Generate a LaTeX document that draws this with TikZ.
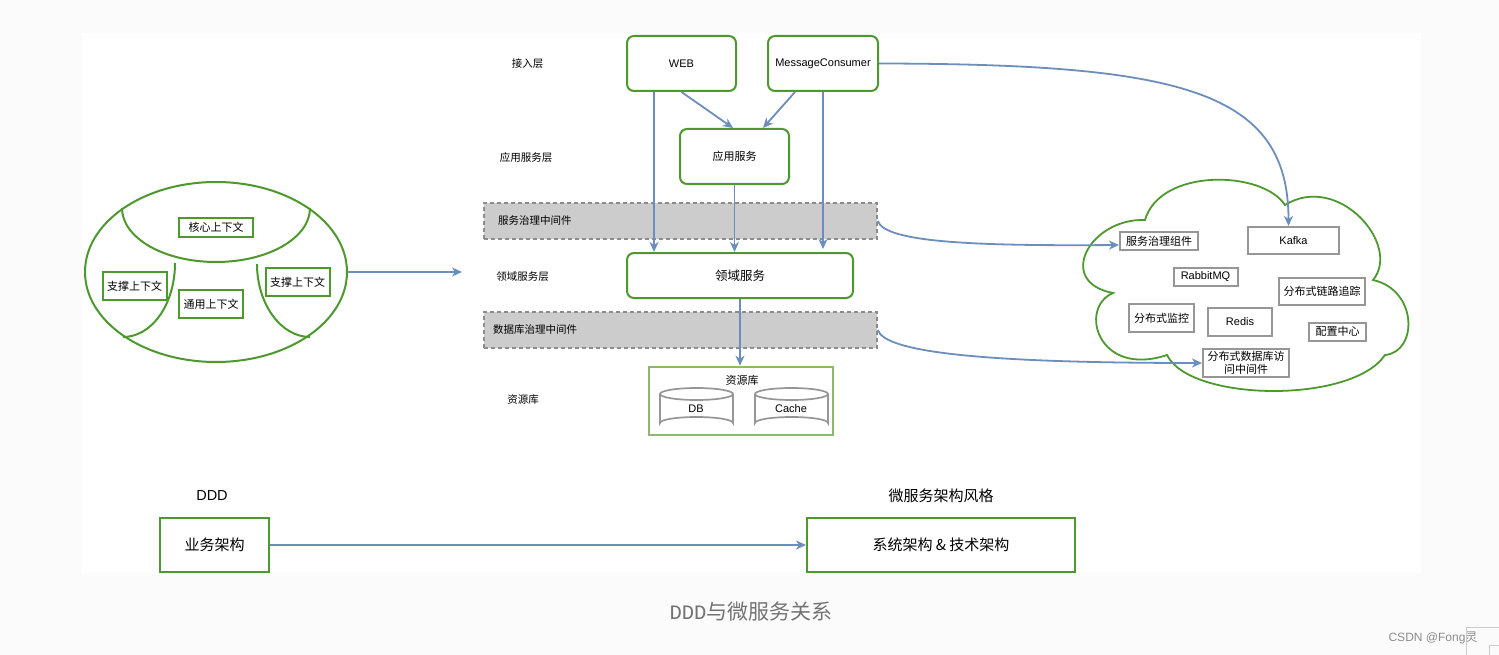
\documentclass[tikz,border=0pt]{standalone}
\usepackage{fontspec}
\setmainfont{Liberation Sans}
\newfontfamily\cjk{Noto Sans CJK SC}
\newfontfamily\monof{Liberation Mono}
\usetikzlibrary{arrows.meta,shapes.geometric}
\definecolor{gr}{RGB}{77,153,46}
\definecolor{lgr}{RGB}{140,185,110}
\definecolor{ablue}{RGB}{108,142,191}
\definecolor{bandfill}{RGB}{204,204,204}
\definecolor{bandline}{RGB}{140,140,140}
\definecolor{cgray}{RGB}{150,150,150}
\definecolor{bgc}{RGB}{251,251,251}
\newcommand\setfs[1]{\fontsize{#1}{#1}\selectfont}
\begin{document}
\begin{tikzpicture}[x=1pt,y=-1pt,
  arr/.style={draw=ablue, line width=1.8pt, -{Stealth[length=10pt,width=9pt,inset=3pt]}},
  gbox/.style={draw=gr, line width=2pt, fill=white, inner sep=0pt, align=center},
  rbox/.style={gbox, rounded corners=7pt},
  cbox/.style={draw=cgray, line width=2pt, fill=white, inner sep=0pt, align=center},
  band/.style={draw=bandline, fill=bandfill, line width=1.6pt, dash pattern=on 4pt off 3pt, inner sep=0pt},
  lbl/.style={inner sep=0pt, font=\cjk\setfs{10.5}},
  cyl/.style={draw=cgray, line width=1.7pt, fill=white}
]
\fill[bgc] (0,0) rectangle (1499,655);
\fill[white] (82,33) rectangle (1421,573);
\useasboundingbox (0,0) rectangle (1499,655);

% ---------- left ellipse (bounded contexts)
\node[ellipse, draw=gr, line width=2pt, minimum width=262, minimum height=180, inner sep=0pt] (ctx) at (216,272) {};
\draw[gr, line width=2pt] (122,208) .. controls (122,238) and (164,262) .. (216,262) .. controls (268,262) and (310,238) .. (310,208);
\draw[gr, line width=2pt] (175,263) .. controls (175,304) and (152,337) .. (123,337);
\draw[gr, line width=2pt] (257,264) .. controls (257,304) and (281,337) .. (310,337);
\node[gbox, minimum width=74, minimum height=19, font=\cjk\setfs{11}] (core) at (216,227.5) {核心上下文};
\node[gbox, minimum width=64, minimum height=28, font=\cjk\setfs{11}] (supl) at (134.5,286) {支撑上下文};
\node[gbox, minimum width=64, minimum height=28, font=\cjk\setfs{11}] (gen) at (211,304) {通用上下文};
\node[gbox, minimum width=64, minimum height=28, font=\cjk\setfs{11}] (supr) at (297.5,282) {支撑上下文};
\coordinate (ctxend) at (462,272);
\draw[arr] (ctx.east) -- (ctxend);

% ---------- layer labels
\node[lbl] (l1) at (527.5,64) {接入层};
\node[lbl] (l2) at (526,157.5) {应用服务层};
\node[lbl] (l3) at (522.5,277) {领域服务层};
\node[lbl] (l4) at (523,400) {资源库};

% ---------- bands
\node[band, minimum width=393, minimum height=36] (b1) at (680.5,221) {};
\node[lbl, anchor=west] (b1t) at (498,221) {服务治理中间件};
\node[band, minimum width=393, minimum height=36] (b2) at (680.5,330) {};
\node[lbl, anchor=west] (b2t) at (493,330) {数据库治理中间件};

% ---------- main boxes
\node[rbox, minimum width=109, minimum height=55, font=\setfs{11}] (web) at (681.5,63.5) {WEB};
\node[rbox, minimum width=110, minimum height=55, font=\setfs{11}] (mc) at (823,63.5) {MessageConsumer};
\node[rbox, minimum width=109, minimum height=55, font=\cjk\setfs{11}] (app) at (734.5,156.5) {应用服务};
\node[rbox, minimum width=226, minimum height=45, font=\cjk\setfs{12.5}] (dom) at (740,275.5) {领域服务};

% resource container
\node[draw=lgr, line width=2.6pt, fill=white, minimum width=184, minimum height=68, inner sep=0pt] (res) at (741,401) {};
\node[inner sep=0pt, font=\cjk\setfs{11}] (rest) at (742,380) {资源库};
% cylinders
\draw[cyl] (660,394) -- (660,423) arc[start angle=180, end angle=360, x radius=36.5, y radius=6] -- (733,394);
\draw[cyl] (696.5,394) ellipse[x radius=36.5, y radius=6];
\draw[cyl] (755,394) -- (755,423) arc[start angle=180, end angle=360, x radius=36.5, y radius=6] -- (828,394);
\draw[cyl] (791.5,394) ellipse[x radius=36.5, y radius=6];
\node[inner sep=0pt, font=\setfs{11}] (dbt) at (696,409) {DB};
\node[inner sep=0pt, font=\setfs{11}] (cachet) at (791,409) {Cache};

% ---------- arrows in main column
\coordinate (w1) at ([xshift=-27.5pt]web.south);
\draw[arr] (w1) -- (w1 |- dom.north);
\draw[arr] (web.south) -- ([xshift=-1.5pt]app.north);
\coordinate (m1) at ([xshift=-28pt]mc.south);
\draw[arr] (m1) -- ([xshift=28.5pt]app.north);
\coordinate (m2) at (mc.south);
\draw[arr] (m2) -- ([yshift=3pt]m2 |- dom.north);
\draw[arr] (app.south) -- (app.south |- dom.north);
\draw[arr] (dom.south) -- (dom.south |- res.north);

% ---------- cloud
\draw[gr, line width=1.8pt, fill=white]
  (1145,220) .. controls (1090,218) and (1055,282) .. (1113,293)
  .. controls (1078,308) and (1098,378) .. (1167,355)
  .. controls (1190,402) and (1352,404) .. (1385,355)
  .. controls (1418,352) and (1418,290) .. (1373,280)
  .. controls (1402,245) and (1338,172) .. (1285,205)
  .. controls (1262,170) and (1160,168) .. (1145,220) -- cycle;
\node[cbox, minimum width=78, minimum height=18, font=\cjk\setfs{11}] (zl) at (1159,241) {服务治理组件};
\node[cbox, minimum width=91, minimum height=27, font=\setfs{11}] (kafka) at (1293.5,240.5) {Kafka};
\node[cbox, minimum width=64, minimum height=18, font=\setfs{11}] (rmq) at (1205.5,277) {RabbitMQ};
\node[cbox, minimum width=86, minimum height=27, font=\cjk\setfs{11}] (trace) at (1322,291) {分布式链路追踪};
\node[cbox, minimum width=65, minimum height=28, font=\cjk\setfs{11}] (mon) at (1161.5,318) {分布式监控};
\node[cbox, minimum width=64, minimum height=28, font=\setfs{11}] (redis) at (1240,322) {Redis};
\node[cbox, minimum width=57, minimum height=18, font=\cjk\setfs{11}] (cfg) at (1337.5,331.5) {配置中心};
\node[cbox, minimum width=86, minimum height=28, font=\cjk\fontsize{11}{12.5}\selectfont] (dbm) at (1246,363) {分布式数据库访\\问中间件};

% ---------- curved arrows to the cloud
\draw[arr] (mc.east) .. controls (1180,64) and ([xshift=-5pt]kafka.north |- 0,90) .. ([xshift=-5pt]kafka.north);
\draw[arr] (b1.east) .. controls (885,243) and (980,246) .. ([yshift=-4pt]zl.west);
\draw[arr] (b2.east) .. controls (885,352) and (980,363) .. (dbm.west);

% ---------- bottom row
\node[inner sep=0pt, font=\setfs{14.5}] (ddd) at (212,496) {DDD};
\node[inner sep=0pt, font=\cjk\setfs{15}] (msa) at (941,496) {微服务架构风格};
\node[gbox, minimum width=109, minimum height=54, font=\cjk\setfs{15}] (biz) at (214.5,545) {业务架构};
\node[gbox, minimum width=268, minimum height=54, font=\cjk\setfs{15}] (sys) at (941,545) {系统架构 \& 技术架构};
\draw[arr] (biz.east) -- (sys.west);

% ---------- caption & watermark
\node[inner sep=0pt, text=black!55] (cap) at (751,612) {{\monof\setfs{20.5}DDD}{\cjk\setfs{21}与微服务关系}};
\node[inner sep=0pt, text=black!45, font=\setfs{12}] (wm) at (1433,638) {CSDN @Fong{\cjk 灵}};
\draw[black!20, line width=1pt] (1466,655) -- (1466,627) -- (1499,627);
\draw[black!20, line width=1pt] (1489,655) -- (1489,645) -- (1499,645);
\end{tikzpicture}
\end{document}
